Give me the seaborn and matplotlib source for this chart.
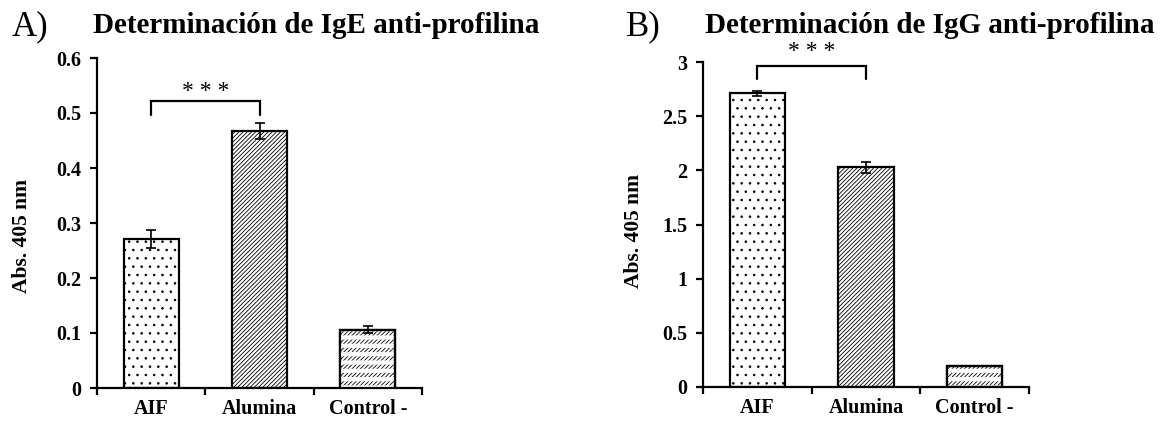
import matplotlib
matplotlib.use("Agg")
import matplotlib.pyplot as plt
from matplotlib.ticker import FixedLocator, MultipleLocator
import seaborn as sns
import pandas as pd

# Data
grupos = ["AIF", "Alumina", "Control -"]
ige_abs = [0.271, 0.467, 0.106]
ige_err = [0.016, 0.015, 0.006]
igg_abs = [2.71, 2.03, 0.19]
igg_err = [0.025, 0.05, 0.0]
hatches = ["..", "////////", "////////"]

sns.set_theme(style="white")
plt.rcParams["font.family"] = ["Liberation Serif", "DejaVu Serif"]
plt.rcParams["hatch.linewidth"] = 0.6
plt.rcParams["axes.linewidth"] = 1.6
for key in ("text.color", "axes.labelcolor", "xtick.color", "ytick.color",
            "axes.edgecolor"):
    plt.rcParams[key] = "black"

fig = plt.figure(figsize=(11.64, 4.26), dpi=100)
W, H = 1164, 426
ax1 = fig.add_axes([97 / W, 1 - 388 / H, 325 / W, 330 / H])
ax2 = fig.add_axes([703 / W, 1 - 387 / H, 326 / W, 325 / H])


def draw_panel(ax, values, errs, ymax, ystep, decimals):
    df = pd.DataFrame({"grupo": grupos, "abs": values})
    sns.barplot(data=df, x="grupo", y="abs", ax=ax, color="white",
                saturation=1, edgecolor="black", linewidth=1.6,
                width=0.51, errorbar=None)
    for p, h in zip(ax.patches, hatches):
        p.set_hatch(h)
    # Control bar: break the diagonal lines into rows with white stripes
    over = ax.bar([2], [values[2]], width=0.51, facecolor="none",
                  edgecolor="white", linewidth=0, hatch="--", zorder=3)
    for b in over.patches:
        if hasattr(b, "set_hatch_linewidth"):
            b.set_hatch_linewidth(3.0)
    ax.bar([2], [values[2]], width=0.51, facecolor="none",
           edgecolor="black", linewidth=1.6, zorder=4)
    ax.errorbar(range(len(grupos)), values, yerr=errs, fmt="none",
                ecolor="black", elinewidth=1.2, capsize=3.5, capthick=1.2,
                zorder=5)
    ax.set_xlim(-0.5, 2.5)
    ax.set_ylim(0, ymax)
    ax.yaxis.set_major_locator(MultipleLocator(ystep))
    if decimals:
        ax.set_yticklabels([f"{t:.1f}" if t else "0" for t in ax.get_yticks()])
    else:
        ax.set_yticklabels([f"{t:g}" for t in ax.get_yticks()])
    ax.xaxis.set_minor_locator(FixedLocator([-0.5, 0.5, 1.5, 2.5]))
    ax.tick_params(axis="x", which="major", length=0, pad=8)
    ax.tick_params(axis="x", which="minor", length=5, width=1.6,
                   direction="out", bottom=True)
    ax.tick_params(axis="y", which="major", length=5, width=1.6,
                   direction="out", left=True, pad=6)
    for lbl in ax.get_xticklabels() + ax.get_yticklabels():
        lbl.set_fontweight("bold")
        lbl.set_fontsize(14.5)
        lbl.set_color("black")
    ax.set_xlabel("")
    ax.set_ylabel("Abs. 405 nm", fontsize=15.5, fontweight="bold",
                  color="black")
    for s in ("top", "right"):
        ax.spines[s].set_visible(False)
    for s in ("left", "bottom"):
        ax.spines[s].set_color("black")


draw_panel(ax1, ige_abs, ige_err, 0.6, 0.1, True)
draw_panel(ax2, igg_abs, igg_err, 3.0, 0.5, False)
ax1.yaxis.set_label_coords(-0.20, 0.46)
ax2.yaxis.set_label_coords(-0.18, 0.48)


def bracket(ax, x0, x1, y_low, y_high, y_text):
    ax.plot([x0, x0, x1, x1], [y_low, y_high, y_high, y_low], color="black",
            lw=1.6, clip_on=False, solid_joinstyle="miter")
    ax.text((x0 + x1) / 2, y_text, "* * *", ha="center", va="center",
            fontsize=17, color="black", clip_on=False)


bracket(ax1, 0, 1, 0.497, 0.521, 0.540)
bracket(ax2, 0, 1, 2.84, 2.965, 3.10)

fig.text(12 / W, 1 - 35 / H, "A)", fontsize=25, ha="left", va="baseline")
fig.text(93 / W, 1 - 33 / H, "Determinación de IgE anti-profilina",
         fontsize=21, fontweight="bold", ha="left", va="baseline")
fig.text(626 / W, 1 - 35 / H, "B)", fontsize=25, ha="left", va="baseline")
fig.text(705 / W, 1 - 33 / H, "Determinación de IgG anti-profilina",
         fontsize=21, fontweight="bold", ha="left", va="baseline")

fig.savefig("out.png", dpi=100, facecolor="white")
